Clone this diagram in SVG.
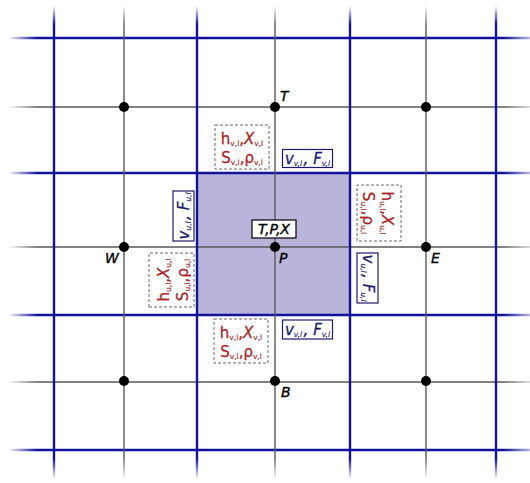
<svg xmlns="http://www.w3.org/2000/svg" width="530" height="483" viewBox="0 0 530 483">
<style>
.bl{stroke:#12129a;stroke-width:2.4;fill:none}
.gr{stroke:#5a5a5a;stroke-width:1.4;fill:none}
.dot{fill:#000}
.lab{font-family:"DejaVu Sans",sans-serif;font-size:14px;font-style:italic;fill:#000;stroke:#000;stroke-width:0.35}
.rt{font-family:"DejaVu Sans",sans-serif;font-size:15px;fill:#a82828;stroke:#a82828;stroke-width:0.3}
.bt{font-family:"DejaVu Sans",sans-serif;font-size:15px;font-style:italic;fill:#1c1c6e;stroke:#1c1c6e;stroke-width:0.3}
.sb{font-size:7.5px;stroke-width:0.15}
.rbox{fill:#fff;stroke:#6a6a6a;stroke-width:1;stroke-dasharray:3 2}
.bbox{fill:#fff;stroke:#1c1c6e;stroke-width:1.2}
</style>
<defs>
<linearGradient id="gh" gradientUnits="userSpaceOnUse" x1="0" y1="0" x2="530" y2="0">
<stop offset="0.015" stop-color="#fff" stop-opacity="0"/>
<stop offset="0.07" stop-color="#fff" stop-opacity="1"/>
<stop offset="0.95" stop-color="#fff" stop-opacity="1"/>
<stop offset="1" stop-color="#fff" stop-opacity="0.3"/>
</linearGradient>
<linearGradient id="gv" gradientUnits="userSpaceOnUse" x1="0" y1="0" x2="0" y2="483">
<stop offset="0.012" stop-color="#fff" stop-opacity="0"/>
<stop offset="0.05" stop-color="#fff" stop-opacity="1"/>
<stop offset="0.95" stop-color="#fff" stop-opacity="1"/>
<stop offset="0.992" stop-color="#fff" stop-opacity="0"/>
</linearGradient>
<mask id="mh" maskUnits="userSpaceOnUse" x="0" y="0" width="530" height="483"><rect width="530" height="483" fill="url(#gh)"/></mask>
<mask id="mv" maskUnits="userSpaceOnUse" x="0" y="0" width="530" height="483"><rect width="530" height="483" fill="url(#gv)"/></mask>
</defs>
<rect width="530" height="483" fill="#fff"/>
<rect id="cell" x="197" y="173" width="153" height="142" fill="#b8b4da"/>
<g id="connectors">
<g mask="url(#mh)">
<path class="gr" d="M8 107H530M8 247H530M8 382H530"/>
<path class="bl" d="M8 38H530M8 173H530M8 315H530M8 450H530"/>
</g>
<g mask="url(#mv)">
<path class="gr" d="M124 5V481M275 5V481M426 5V481"/>
<path class="bl" d="M54 5V481M197 5V481M350 5V481M496 5V481"/>
</g>
</g>
<g id="node-T"><circle class="dot" cx="275" cy="107" r="5"/><text class="lab" x="280" y="101">T</text></g>
<g id="node-P"><circle class="dot" cx="275" cy="247" r="5"/><text class="lab" x="279" y="263">P</text></g>
<g id="node-W"><circle class="dot" cx="124" cy="247" r="5"/><text class="lab" x="105" y="263">W</text></g>
<g id="node-E"><circle class="dot" cx="426" cy="247" r="5"/><text class="lab" x="431" y="263">E</text></g>
<g id="node-B"><circle class="dot" cx="275" cy="381" r="5"/><text class="lab" x="281" y="397">B</text></g>
<g id="node-NW"><circle class="dot" cx="124" cy="107" r="5"/></g>
<g id="node-NE"><circle class="dot" cx="426" cy="107" r="5"/></g>
<g id="node-SW"><circle class="dot" cx="124" cy="381" r="5"/></g>
<g id="node-SE"><circle class="dot" cx="426" cy="381" r="5"/></g>
<g id="center-label">
<rect class="bbox" x="252" y="220" width="44" height="18" style="stroke:#000"/>
<text class="lab" x="274" y="234" text-anchor="middle">T,P,X</text>
</g>
<g id="top-red" transform="translate(242,147)">
<rect class="rbox" x="-27" y="-22" width="54" height="44"/>
<text class="rt" x="0" y="-3" text-anchor="middle">h<tspan class="sb" dy="2">v,l</tspan><tspan dy="-2">,</tspan><tspan font-style="italic">X</tspan><tspan class="sb" dy="2">v,l</tspan></text>
<text class="rt" x="0" y="16" text-anchor="middle">S<tspan class="sb" dy="2">v,l</tspan><tspan dy="-2">,ρ</tspan><tspan class="sb" dy="2">v,l</tspan></text>
</g>
<g id="top-blue" transform="translate(307.5,158.5)">
<rect class="bbox" x="-25" y="-9" width="50" height="18"/>
<text class="bt" x="0" y="5" text-anchor="middle">v<tspan class="sb" dy="2">v,l</tspan><tspan dy="-2" dx="1.5">, F</tspan><tspan class="sb" dy="2">v,l</tspan></text>
</g>
<g id="bottom-red" transform="translate(241,341)">
<rect class="rbox" x="-27" y="-22" width="54" height="44"/>
<text class="rt" x="0" y="-3" text-anchor="middle">h<tspan class="sb" dy="2">v,l</tspan><tspan dy="-2">,</tspan><tspan font-style="italic">X</tspan><tspan class="sb" dy="2">v,l</tspan></text>
<text class="rt" x="0" y="16" text-anchor="middle">S<tspan class="sb" dy="2">v,l</tspan><tspan dy="-2">,ρ</tspan><tspan class="sb" dy="2">v,l</tspan></text>
</g>
<g id="bottom-blue" transform="translate(307.5,329.5)">
<rect class="bbox" x="-25" y="-9.5" width="50" height="19"/>
<text class="bt" x="0" y="5" text-anchor="middle">v<tspan class="sb" dy="2">v,l</tspan><tspan dy="-2" dx="1.5">, F</tspan><tspan class="sb" dy="2">v,l</tspan></text>
</g>
<g id="left-blue" transform="translate(183.5,216) rotate(-90)">
<rect class="bbox" x="-25" y="-10.5" width="50" height="21"/>
<text class="bt" x="0" y="5" text-anchor="middle">v<tspan class="sb" dy="2">u,l</tspan><tspan dy="-2" dx="1.5">, F</tspan><tspan class="sb" dy="2">u,l</tspan></text>
</g>
<g id="left-red" transform="translate(171.5,280) rotate(-90)">
<rect class="rbox" x="-27" y="-22.5" width="54" height="45"/>
<text class="rt" x="0" y="-3" text-anchor="middle">h<tspan class="sb" dy="2">u,l</tspan><tspan dy="-2">,</tspan><tspan font-style="italic">X</tspan><tspan class="sb" dy="2">u,l</tspan></text>
<text class="rt" x="0" y="16" text-anchor="middle">S<tspan class="sb" dy="2">u,l</tspan><tspan dy="-2">,ρ</tspan><tspan class="sb" dy="2">u,l</tspan></text>
</g>
<g id="right-red" transform="translate(379,213) rotate(90)">
<rect class="rbox" x="-28" y="-22" width="56" height="44"/>
<text class="rt" x="0" y="-3" text-anchor="middle">h<tspan class="sb" dy="2">u,l</tspan><tspan dy="-2">,</tspan><tspan font-style="italic">X</tspan><tspan class="sb" dy="2">u,l</tspan></text>
<text class="rt" x="0" y="16" text-anchor="middle">S<tspan class="sb" dy="2">u,l</tspan><tspan dy="-2">,ρ</tspan><tspan class="sb" dy="2">u,l</tspan></text>
</g>
<g id="right-blue" transform="translate(367.5,278) rotate(90)">
<rect class="bbox" x="-25" y="-10.5" width="50" height="21"/>
<text class="bt" x="0" y="5" text-anchor="middle">v<tspan class="sb" dy="2">u,l</tspan><tspan dy="-2" dx="1.5">, F</tspan><tspan class="sb" dy="2">u,l</tspan></text>
</g>
</svg>
